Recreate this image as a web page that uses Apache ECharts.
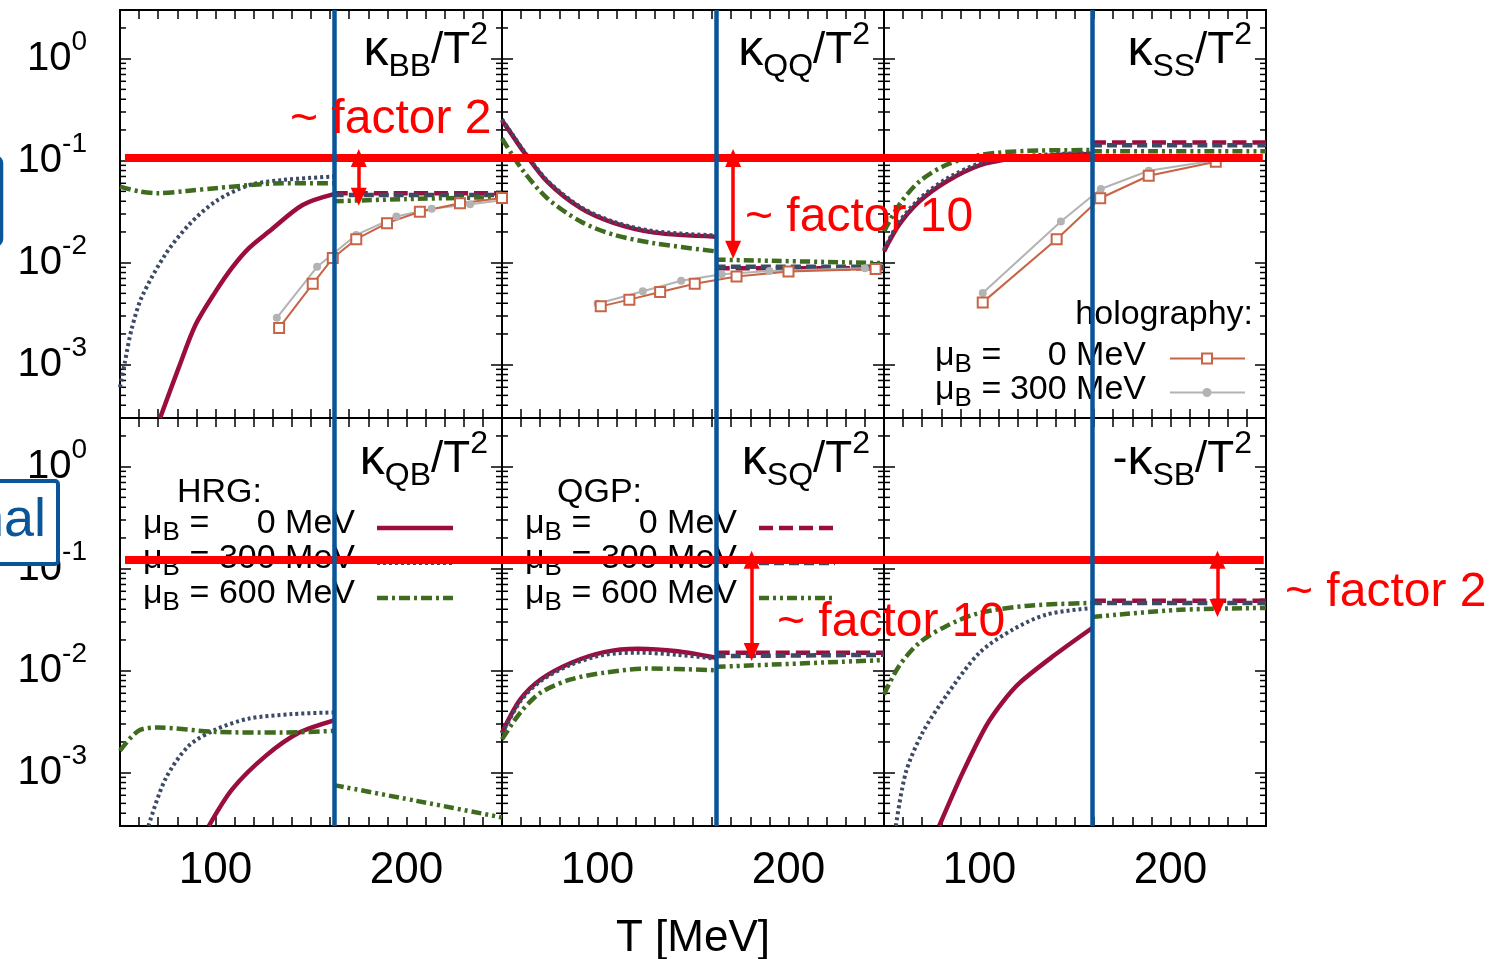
<!DOCTYPE html>
<html>
<head>
<meta charset="utf-8">
<script src="https://cdn.jsdelivr.net/npm/echarts@6/dist/echarts.min.js"></script>
<style>
  * { margin: 0; padding: 0; }
  body { background: #fff; }
  #chart { width: 1490px; height: 959px; }
</style>
</head>
<body>
<div id="chart"></div>
<script>
// values: [T in MeV, kappa/T^2]
// kappa_BB
const bbHrg0 = [[71, 3.0e-4], [80.7, 9.3e-4], [89.5, 2.45e-3], [100, 5.2e-3], [108.8, 9.0e-3], [117.5, 0.0139], [128, 0.0202], [145.6, 0.0368], [162, 0.047]];
const bbHrg300 = [[50, 6.0e-4], [52.6, 1.07e-3], [56, 2.2e-3], [61.4, 4.6e-3], [73.7, 0.012], [86, 0.0234], [100, 0.0398], [117.6, 0.0575], [135, 0.0646], [162, 0.07]];
const bbHrg600 = [[50, 0.0556], [60, 0.05], [70, 0.048], [85, 0.0505], [100, 0.0537], [120, 0.058], [135, 0.06], [162, 0.06]];
const bbQgp0 = [[162, 0.048], [250, 0.048]];
const bbQgp300 = [[162, 0.046], [250, 0.046]];
const bbQgp600 = [[162, 0.04], [200, 0.042], [250, 0.044]];
const bbHolo0 = [[133.3, 2.29e-3], [150.9, 6.2e-3], [161.4, 0.0111], [173.7, 0.017], [189.8, 0.0244], [207, 0.0316], [228, 0.0383], [250, 0.043]];
const bbHolo300 = [[132.1, 2.88e-3], [153.2, 9.1e-3], [173.7, 0.0187], [194.7, 0.0283], [213.2, 0.0337], [233.3, 0.0374], [250, 0.041]];
// kappa_QQ
const qqHrg0 = [[50, 0.249], [55, 0.182], [61.4, 0.122], [73.7, 0.0622], [91.2, 0.0342], [108.8, 0.0244], [129.8, 0.0197], [162, 0.018]];
const qqHrg300 = [[50, 0.255], [55, 0.186], [61.4, 0.125], [73.7, 0.064], [91.2, 0.0352], [108.8, 0.0251], [129.8, 0.0203], [162, 0.0185]];
const qqHrg600 = [[50, 0.165], [55, 0.117], [61.4, 0.078], [73.7, 0.0428], [91.2, 0.0253], [108.8, 0.0187], [129.8, 0.0155], [162, 0.0129]];
const qqQgp0 = [[162, 0.0088], [250, 0.0088]];
const qqQgp300 = [[162, 0.0091], [250, 0.0091]];
const qqQgp600 = [[162, 0.0107], [250, 0.0099]];
const qqHolo0 = [[101.7, 3.73e-3], [116.7, 4.34e-3], [132.8, 5.16e-3], [150.9, 6.22e-3], [172.8, 7.33e-3], [200, 8.2e-3], [245.6, 8.65e-3]];
const qqHolo300 = [[100, 3.96e-3], [123.7, 5.24e-3], [143.8, 6.65e-3], [165, 7.7e-3], [190, 8.3e-3], [240, 8.8e-3]];
// kappa_SS
const ssHrg0 = [[50, 0.0129], [57.9, 0.0235], [68.4, 0.0397], [82.5, 0.0622], [100, 0.09], [117.5, 0.105], [140, 0.113], [159, 0.116]];
const ssHrg300 = [[50, 0.0135], [57.9, 0.025], [68.4, 0.042], [82.5, 0.066], [100, 0.094], [117.5, 0.108], [140, 0.116], [159, 0.119]];
const ssHrg600 = [[50, 0.0202], [57.9, 0.0368], [68.4, 0.0622], [82.5, 0.0906], [100, 0.1135], [126, 0.125], [159, 0.127]];
const ssQgp0 = [[159, 0.151], [250, 0.151]];
const ssQgp300 = [[159, 0.142], [250, 0.142]];
const ssQgp600 = [[159, 0.124], [250, 0.124]];
const ssHolo0 = [[101.7, 4.08e-3], [140.4, 0.017], [163.2, 0.0428], [188.6, 0.0711], [223.7, 0.0975]];
const ssHolo300 = [[101.7, 5.05e-3], [142.6, 0.0253], [163.5, 0.0527], [188.6, 0.0796], [223.7, 0.101]];
// kappa_QB
const qbHrg0 = [[96.5, 3.0e-4], [108.8, 6.9e-4], [126.3, 1.46e-3], [143.9, 2.47e-3], [162, 3.25e-3]];
const qbHrg300 = [[64.9, 3.0e-4], [73.7, 8.6e-4], [86, 1.83e-3], [100, 2.64e-3], [117.5, 3.39e-3], [140, 3.75e-3], [162, 3.9e-3]];
const qbHrg600 = [[50, 1.64e-3], [59.6, 2.57e-3], [70, 2.77e-3], [100, 2.51e-3], [135, 2.47e-3], [162, 2.57e-3]];
const qbQgp600 = [[162, 7.55e-4], [205, 5.3e-4], [250, 3.64e-4]];
// kappa_SQ
const sqHrg0 = [[50, 2.47e-3], [59.6, 5.23e-3], [70.2, 8.2e-3], [86, 0.0119], [103.5, 0.0152], [121, 0.0164], [142, 0.0155], [162, 0.0134]];
const sqHrg300 = [[50, 2.4e-3], [59.6, 5.0e-3], [70.2, 7.9e-3], [86, 0.0114], [103.5, 0.0143], [121, 0.015], [142, 0.0143], [162, 0.0131]];
const sqHrg600 = [[50, 2.12e-3], [59.6, 3.88e-3], [70.2, 6.08e-3], [86, 8.2e-3], [103.5, 9.55e-3], [126, 0.0105], [162, 0.0101]];
const sqQgp0 = [[162, 0.015], [250, 0.015]];
const sqQgp300 = [[162, 0.0139], [250, 0.0143]];
const sqQgp600 = [[162, 0.0109], [250, 0.0127]];
// -kappa_SB
const sbHrg0 = [[78.9, 3.0e-4], [91.2, 1.0e-3], [103.5, 2.88e-3], [112, 4.9e-3], [121, 7.6e-3], [138.6, 0.0139], [159, 0.0262]];
const sbHrg300 = [[56.2, 3.0e-4], [61.4, 1.0e-3], [70.2, 2.47e-3], [82.5, 5.65e-3], [100, 0.015], [117.5, 0.0253], [135.1, 0.0355], [159, 0.0412]];
const sbHrg600 = [[50, 5.85e-3], [57.9, 0.0111], [68.4, 0.0187], [82.5, 0.0273], [100, 0.0368], [126, 0.0434], [159, 0.0461]];
const sbQgp0 = [[159, 0.0486], [250, 0.0486]];
const sbQgp300 = [[159, 0.0461], [250, 0.0461]];
const sbQgp600 = [[159, 0.0336], [205, 0.0395], [250, 0.0412]];

const panelTitles = [['', 'BB'], ['', 'QQ'], ['', 'SS'], ['', 'QB'], ['', 'SQ'], ['-', 'SB']];
const tcLine = [162, 162, 159, 162, 162, 159];      // blue vertical line, MeV
const redLevel = [0.106, 0.122];                     // red horizontal line, per row
const redSpan = [[52.6, 250], [50, 250], [50, 248.3], [52.6, 250], [50, 250], [50, 248.8]];
const arrows = [[0, 175, 0.106, 0.0444], [1, 171, 0.106, 0.0134], [4, 180.7, 0.122, 0.0152], [5, 224.6, 0.122, 0.0412]];
const xTickLabels = [100, 200];

const panels = [
  { hrg: [bbHrg0, bbHrg300, bbHrg600], qgp: [bbQgp0, bbQgp300, bbQgp600], holo: [bbHolo0, bbHolo300] },
  { hrg: [qqHrg0, qqHrg300, qqHrg600], qgp: [qqQgp0, qqQgp300, qqQgp600], holo: [qqHolo0, qqHolo300] },
  { hrg: [ssHrg0, ssHrg300, ssHrg600], qgp: [ssQgp0, ssQgp300, ssQgp600], holo: [ssHolo0, ssHolo300] },
  { hrg: [qbHrg0, qbHrg300, qbHrg600], qgp: [null, null, qbQgp600], holo: [] },
  { hrg: [sqHrg0, sqHrg300, sqHrg600], qgp: [sqQgp0, sqQgp300, sqQgp600], holo: [] },
  { hrg: [sbHrg0, sbHrg300, sbHrg600], qgp: [sbQgp0, sbQgp300, sbQgp600], holo: [] }
];

const FONT = '"Liberation Sans", Arial, sans-serif';
const CRIMSON = '#9b0d3e', SLATE = '#3c4a66', GREEN = '#3e6b1e';
const ORANGE = '#c86446', GREY = '#b3b3b3', BLUE = '#0a5598', RED = '#ff0000';
const hrgStyle = [
  { color: CRIMSON, type: 'solid', width: 4.5 },
  { color: SLATE, type: [3, 3], width: 4 },
  { color: GREEN, type: [11, 4, 3, 4], width: 4.5 }
];
const qgpStyle = [
  { color: CRIMSON, type: [14, 6], width: 4.5 },
  { color: SLATE, type: [10, 5], width: 4.5 },
  { color: GREEN, type: [10, 4, 3, 4, 3, 4], width: 4.5 }
];
const Y_MIN = 3e-4, Y_MAX = 3;

const grids = [], xAxes = [], yAxes = [], series = [], graphics = [];

function powLabel(v) {
  const e = Math.log10(v);
  const r = Math.round(e);
  if (Math.abs(e - r) > 1e-6) return '';
  return '{b|10}{s|' + r + '}';
}

// minor ticks of the log axis (2..9 per decade)
const minorTicks = [];
for (let d = -4; d <= 0; d++) {
  for (let k = 2; k <= 9; k++) {
    const v = k * Math.pow(10, d);
    if (v > Y_MIN && v < Y_MAX) minorTicks.push([50, v]);
  }
}

panels.forEach(function (p, i) {
  const row = Math.floor(i / 3), col = i % 3;
  const left = 120 + 382 * col, top = 10 + 408 * row;
  grids.push({ left: left, top: top, width: 382, height: 408, show: true, borderColor: '#000', borderWidth: 2 });

  const tick = { show: true, inside: true, length: 9, lineStyle: { color: '#000', width: 1.5 } };
  xAxes.push({
    gridIndex: i, type: 'value', min: 50, max: 250, interval: 10, position: 'bottom',
    axisLine: { show: false }, splitLine: { show: false }, axisTick: tick,
    axisLabel: {
      show: row === 1, margin: 23, fontSize: 44, lineHeight: 44, color: '#000', fontFamily: FONT,
      formatter: function (v) { return xTickLabels.indexOf(v) >= 0 ? String(v) : ''; }
    }
  });
  xAxes.push({
    gridIndex: i, type: 'value', min: 50, max: 250, interval: 10, position: 'top',
    axisLine: { show: false }, splitLine: { show: false }, axisTick: tick, axisLabel: { show: false }
  });
  const ytick = { show: true, inside: true, length: 11, lineStyle: { color: '#000', width: 1.5 } };
  yAxes.push({
    gridIndex: i, type: 'log', logBase: 10, min: Y_MIN, max: Y_MAX, position: 'left',
    axisLine: { show: false }, splitLine: { show: false }, axisTick: ytick,
    axisLabel: {
      show: col === 0, margin: 33, color: '#000', formatter: powLabel,
      rich: {
        b: { fontSize: 40, lineHeight: 60, fontFamily: FONT, color: '#000' },
        s: { fontSize: 28, lineHeight: 26, verticalAlign: 'top', fontFamily: FONT, color: '#000' }
      }
    }
  });
  yAxes.push({
    gridIndex: i, type: 'log', logBase: 10, min: Y_MIN, max: Y_MAX, position: 'right',
    axisLine: { show: false }, splitLine: { show: false }, axisTick: ytick, axisLabel: { show: false }
  });

  const xi = i * 2, yi = i * 2;

  series.push({
    type: 'custom', xAxisIndex: xi, yAxisIndex: yi, data: minorTicks, silent: true, z: 1,
    renderItem: function (params, api) {
      const v = api.value(1);
      const a = api.coord([50, v]), b = api.coord([250, v]);
      const st = { stroke: '#000', lineWidth: 1.5 };
      return { type: 'group', children: [
        { type: 'line', shape: { x1: a[0], y1: a[1], x2: a[0] + 6, y2: a[1] }, style: st },
        { type: 'line', shape: { x1: b[0] - 6, y1: b[1], x2: b[0], y2: b[1] }, style: st }
      ] };
    }
  });

  function curve(data, st) {
    if (!data) return;
    series.push({
      type: 'line', xAxisIndex: xi, yAxisIndex: yi, data: data, symbol: 'none', silent: true,
      smooth: 0.3, z: 2,
      lineStyle: { color: st.color, type: st.type, width: st.width, cap: 'butt' }
    });
  }
  p.hrg.forEach(function (d, k) { curve(d, hrgStyle[k]); });
  p.qgp.forEach(function (d, k) { curve(d, qgpStyle[k]); });

  if (p.holo.length) {
    series.push({
      type: 'line', xAxisIndex: xi, yAxisIndex: yi, data: p.holo[1], silent: true, z: 3,
      symbol: 'circle', symbolSize: 8, showAllSymbol: true,
      itemStyle: { color: GREY }, lineStyle: { color: GREY, width: 2 }
    });
    series.push({
      type: 'line', xAxisIndex: xi, yAxisIndex: yi, data: p.holo[0], silent: true, z: 3,
      symbol: 'emptyRect', symbolSize: 10, showAllSymbol: true,
      itemStyle: { color: ORANGE, borderWidth: 2 }, lineStyle: { color: ORANGE, width: 2 }
    });
  }

  // red level, arrows and the blue T_c line
  const marks = [];
  const lvl = redLevel[row];
  marks.push([{ coord: [redSpan[i][0], lvl], lineStyle: { color: RED, width: 8, type: 'solid' } }, { coord: [redSpan[i][1], lvl] }]);
  arrows.filter(function (a) { return a[0] === i; }).forEach(function (a) {
    marks.push([
      { coord: [a[1], a[2]], symbol: 'triangle', symbolSize: [16, 18], lineStyle: { color: RED, width: 3.5, type: 'solid' } },
      { coord: [a[1], a[3]], symbol: 'triangle', symbolSize: [16, 18] }
    ]);
  });
  marks.push([{ coord: [tcLine[i], Y_MIN], lineStyle: { color: BLUE, width: 4.5, type: 'solid' } }, { coord: [tcLine[i], Y_MAX] }]);
  series.push({
    type: 'line', xAxisIndex: xi, yAxisIndex: yi, data: [], z: 5, silent: true,
    markLine: { silent: true, animation: false, symbol: ['none', 'none'], label: { show: false },
      itemStyle: { color: RED }, emphasis: { disabled: true }, data: marks }
  });

  // panel title
  graphics.push({
    type: 'text', z: 1,
    style: {
      text: (panelTitles[i][0] ? '{b|' + panelTitles[i][0] + '}' : '') + '{k|κ}{d|' + panelTitles[i][1] + '}{b|/T}{u|2}',
      x: left + 382 - 14, y: top + (row === 0 ? 41 : 42), textAlign: 'right', textVerticalAlign: 'middle',
      rich: {
        b: { fontSize: 44, lineHeight: 64, fontFamily: FONT, fill: '#000', color: '#000' },
        k: { fontSize: 50, lineHeight: 64, fontFamily: FONT, fill: '#000', color: '#000' },
        d: { fontSize: 32, lineHeight: 32, verticalAlign: 'bottom', fontFamily: FONT, fill: '#000', color: '#000' },
        u: { fontSize: 32, lineHeight: 32, verticalAlign: 'top', fontFamily: FONT, fill: '#000', color: '#000' }
      }
    }
  });
});

// legends
const legendRich = {
  m: { fontSize: 34, lineHeight: 44, fontFamily: FONT, fill: '#000', color: '#000' },
  sb: { fontSize: 26, lineHeight: 26, verticalAlign: 'bottom', fontFamily: FONT, fill: '#000', color: '#000' }
};
function legendText(txt, x, y, align) {
  graphics.push({ type: 'text', z: 1, style: { text: txt, x: x, y: y, textAlign: align, textVerticalAlign: 'middle',
    font: '34px ' + FONT, fill: '#000' } });
}
function legendMu(x, y) {
  graphics.push({ type: 'text', z: 1, style: { text: '{m|μ}{sb|B}{m| =}', x: x, y: y, textAlign: 'left',
    textVerticalAlign: 'middle', rich: legendRich } });
}
function sample(x1, x2, y, st) {
  graphics.push({ type: 'line', z: 3, shape: { x1: x1, y1: y, x2: x2, y2: y },
    style: { stroke: st.color, lineWidth: st.width, lineDash: st.type === 'solid' ? null : st.type } });
}
const muLabels = ['0 MeV', '300 MeV', '600 MeV'];
legendText('HRG:', 177, 493, 'left');
legendText('QGP:', 557, 493, 'left');
[524, 559, 594].forEach(function (y, k) {
  legendMu(143, y); legendText(muLabels[k], 355, y, 'right'); sample(377, 453, y + 4, hrgStyle[k]);
  legendMu(525, y); legendText(muLabels[k], 737, y, 'right'); sample(759, 835, y + 4, qgpStyle[k]);
});
legendText('holography:', 1253, 315, 'right');
legendMu(935, 356); legendText('0 MeV', 1146, 356, 'right');
legendMu(935, 390); legendText('300 MeV', 1146, 390, 'right');
graphics.push({ type: 'line', z: 3, shape: { x1: 1170, y1: 358.5, x2: 1245, y2: 358.5 }, style: { stroke: ORANGE, lineWidth: 2 } });
graphics.push({ type: 'rect', z: 3, shape: { x: 1202, y: 353.5, width: 10, height: 10 }, style: { fill: '#fff', stroke: ORANGE, lineWidth: 2 } });
graphics.push({ type: 'line', z: 3, shape: { x1: 1170, y1: 392.5, x2: 1245, y2: 392.5 }, style: { stroke: GREY, lineWidth: 2 } });
graphics.push({ type: 'circle', z: 3, shape: { cx: 1207, cy: 392.5, r: 4.5 }, style: { fill: GREY } });

// red annotations
[['~ factor 2', 290, 120], ['~ factor 10', 745, 218], ['~ factor 10', 777, 623], ['~ factor 2', 1285, 593]].forEach(function (t) {
  graphics.push({ type: 'text', z: 20, style: { text: t[0], x: t[1], y: t[2], textAlign: 'left', textVerticalAlign: 'middle',
    font: '48px ' + FONT, fill: RED } });
});

// axis title
graphics.push({ type: 'text', z: 1, style: { text: 'T [MeV]', x: 693, y: 939, textAlign: 'center', textVerticalAlign: 'middle',
  font: '44px ' + FONT, fill: '#000' } });

// slide boxes cut off at the left edge
graphics.push({ type: 'rect', z: 30, shape: { x: -100, y: 157, width: 101.5, height: 88, r: 6 },
  style: { fill: 'rgba(0,0,0,0)', stroke: BLUE, lineWidth: 3.5 } });
graphics.push({ type: 'rect', z: 30, shape: { x: -100, y: 481, width: 158, height: 83, r: 3 },
  style: { fill: '#fff', stroke: BLUE, lineWidth: 4 } });
graphics.push({ type: 'text', z: 31, style: { text: 'nal', x: 46, y: 521, textAlign: 'right', textVerticalAlign: 'middle',
  font: '54px ' + FONT, fill: BLUE } });

const chart = echarts.init(document.getElementById('chart'));
chart.setOption({
  animation: false,
  backgroundColor: '#fff',
  grid: grids,
  xAxis: xAxes,
  yAxis: yAxes,
  series: series,
  graphic: { elements: graphics }
});
</script>
</body>
</html>
